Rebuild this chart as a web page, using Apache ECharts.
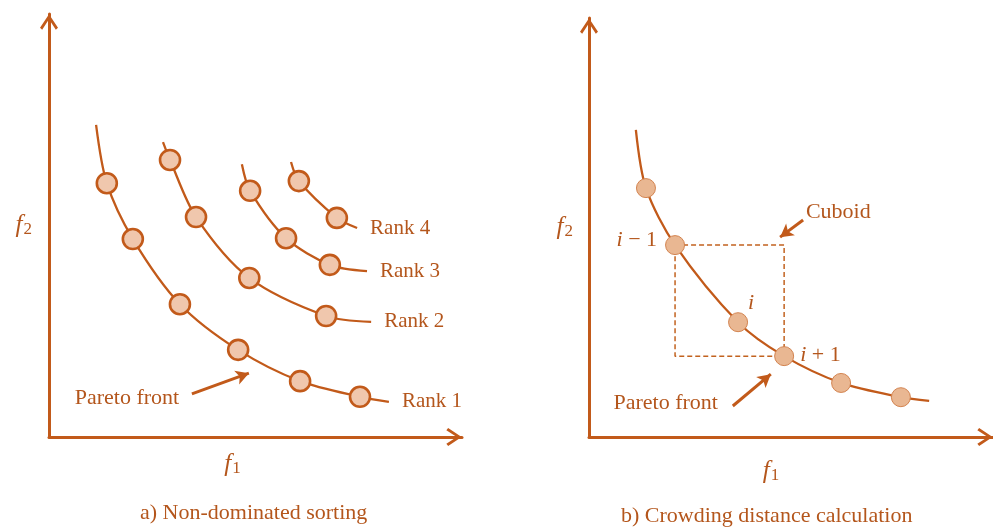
<!DOCTYPE html>
<html>
<head>
<meta charset="utf-8">
<script src="https://cdn.jsdelivr.net/npm/echarts@6/dist/echarts.min.js"></script>
<style>
  html, body { margin: 0; padding: 0; background: #fff; }
  #main { width: 993px; height: 531px; }
</style>
</head>
<body>
<div id="main"></div>
<script>
// left panel: ranks, first and last point of each are curve tails (no marker)
var rank1 = [[1.14, 7.38], [1.40, 6.00], [2.03, 4.68], [3.17, 3.14], [4.58, 2.06], [6.08, 1.32], [7.53, 0.95], [8.23, 0.83]];
var rank2 = [[2.76, 6.97], [2.93, 6.55], [3.56, 5.20], [4.85, 3.76], [6.71, 2.86], [7.80, 2.72]];
var rank3 = [[4.67, 6.45], [4.87, 5.82], [5.74, 4.70], [6.80, 4.07], [7.70, 3.92]];
var rank4 = [[5.86, 6.50], [6.05, 6.05], [6.97, 5.18], [7.46, 4.94]];
var rankNames = ['Rank 1', 'Rank 2', 'Rank 3', 'Rank 4'];

// right panel: one front, indices 2..4 are i-1, i, i+1
var front = [[1.16, 7.33], [1.41, 5.94], [2.13, 4.58], [3.69, 2.74], [4.83, 1.93], [6.24, 1.29], [7.72, 0.95], [8.42, 0.86]];
var frontLabels = { 2: '{it|i} − 1', 3: '{it|i}', 4: '{it|i} + 1' };

// arrows and notes
var paretoArrowA = [[3.46, 1.02], [4.84, 1.51]];
var paretoNoteA = [3.20, 0.92];
var paretoArrowB = [[3.56, 0.74], [4.50, 1.50]];
var paretoNoteB = [3.24, 0.81];
var cuboidArrow = [[5.30, 5.18], [4.73, 4.77]];
var cuboidNote = [5.32, 5.37];

var captions = ['a) Non-dominated sorting', 'b) Crowding distance calculation'];

var ORANGE = '#c25a1a';
var TEXT = '#b4561c';
var SERIF = 'Liberation Serif';
var chevron = 'path://M10,0 L20,15 L17.6,17 L10,5.4 L2.4,17 L0,15 Z';

var myChart = echarts.init(document.getElementById('main'));

var mathRich = {
  it: { fontFamily: SERIF, fontStyle: 'italic', fontSize: 22, color: TEXT },
  f: { fontFamily: SERIF, fontStyle: 'italic', fontSize: 25, color: TEXT },
  s: { fontFamily: SERIF, fontSize: 17, color: TEXT, verticalAlign: 'bottom', padding: [9, 0, 0, 1] }
};

function xAxisOf(idx, nameGap, shift) {
  return {
    type: 'value', gridIndex: idx, min: 0, max: 10,
    name: '{f|f}{s|1}', nameLocation: 'middle', nameGap: nameGap,
    nameTextStyle: { rich: mathRich, padding: [0, shift, 0, 0] },
    axisLine: { show: true, onZero: false, lineStyle: { color: ORANGE, width: 3 },
      symbol: ['none', chevron], symbolSize: [18, 16], symbolOffset: [0, -8] },
    axisTick: { show: false }, axisLabel: { show: false }, splitLine: { show: false }
  };
}
function yAxisOf(idx, nameGap) {
  return {
    type: 'value', gridIndex: idx, min: 0, max: 10,
    name: '{f|f}{s|2}', nameLocation: 'middle', nameRotate: 0, nameGap: nameGap,
    nameTextStyle: { rich: mathRich },
    axisLine: { show: true, onZero: false, lineStyle: { color: ORANGE, width: 3 },
      symbol: ['none', chevron], symbolSize: [18, 16], symbolOffset: [0, -8] },
    axisTick: { show: false }, axisLabel: { show: false }, splitLine: { show: false }
  };
}

function rankSeries(pts, name) {
  var last = pts.length - 1;
  return {
    type: 'line', xAxisIndex: 0, yAxisIndex: 0, smooth: 0.3,
    symbol: 'circle', symbolSize: 20, showAllSymbol: true,
    lineStyle: { color: ORANGE, width: 2.3 },
    itemStyle: { color: '#f0c7ad', borderColor: ORANGE, borderWidth: 2.6 },
    data: pts.map(function (p, k) {
      return (k === 0 || k === last) ? { value: p, symbol: 'none' } : p;
    }),
    endLabel: { show: true, formatter: name, distance: 13, color: TEXT, fontFamily: SERIF, fontSize: 21 },
    z: 3
  };
}

var frontLast = front.length - 1;
var pA = front[2], pB = front[4];
var cuboid = [[pA[0], pA[1]], [pB[0], pA[1]], [pB[0], pB[1]], [pA[0], pB[1]], [pA[0], pA[1]]];

function labelFor(k) {
  if (!frontLabels[k]) return undefined;
  var base = { show: true, formatter: frontLabels[k], color: TEXT, fontFamily: SERIF, fontSize: 22, rich: mathRich };
  if (k === 2) { base.position = 'left'; base.distance = 8; base.offset = [0, -5]; }
  if (k === 3) { base.position = 'top'; base.distance = 0; base.offset = [13, 2]; }
  if (k === 4) { base.position = 'right'; base.distance = 6; base.offset = [0, -1]; }
  return base;
}

function arrowSeries(idx, seg) {
  return {
    type: 'line', xAxisIndex: idx, yAxisIndex: idx, symbol: 'none', data: [], silent: true,
    markLine: {
      silent: true, symbol: ['none', 'arrow'], symbolSize: [11, 13], label: { show: false },
      lineStyle: { color: ORANGE, width: 3, type: 'solid' },
      data: [[{ coord: seg[0] }, { coord: seg[1] }]]
    }
  };
}

function noteSeries(idx, items) {
  return {
    type: 'scatter', xAxisIndex: idx, yAxisIndex: idx, symbolSize: 0, silent: true,
    itemStyle: { opacity: 1 },
    data: items.map(function (it) {
      return { value: it.at, label: { show: true, formatter: it.text, position: it.pos, distance: 2,
        color: TEXT, opacity: 1, fontFamily: SERIF, fontSize: 22 } };
    })
  };
}

var option = {
  animation: false,
  backgroundColor: '#fff',
  textStyle: { fontFamily: SERIF },
  grid: [
    { left: 49, top: 14, width: 413, height: 423 },
    { left: 589, top: 18, width: 404, height: 419 }
  ],
  xAxis: [xAxisOf(0, 14, 46), xAxisOf(1, 21, 40)],
  yAxis: [yAxisOf(0, 17), yAxisOf(1, 16)],
  graphic: [
    { type: 'text', left: 140, top: 502, style: { text: captions[0], fill: TEXT, font: '22px "Liberation Serif"' } },
    { type: 'text', left: 621, top: 505, style: { text: captions[1], fill: TEXT, font: '22px "Liberation Serif"' } }
  ],
  series: [
    rankSeries(rank1, rankNames[0]),
    rankSeries(rank2, rankNames[1]),
    rankSeries(rank3, rankNames[2]),
    rankSeries(rank4, rankNames[3]),
    arrowSeries(0, paretoArrowA),
    noteSeries(0, [{ at: paretoNoteA, text: 'Pareto front', pos: 'left' }]),
    {
      type: 'line', xAxisIndex: 1, yAxisIndex: 1, symbol: 'none', silent: true,
      lineStyle: { color: '#c2621f', width: 1.5, type: [5, 3] },
      data: cuboid, z: 2
    },
    {
      type: 'line', xAxisIndex: 1, yAxisIndex: 1, smooth: 0.3,
      symbol: 'circle', symbolSize: 19, showAllSymbol: true,
      lineStyle: { color: ORANGE, width: 2.3 },
      itemStyle: { color: '#e9b792', borderColor: '#d3834f', borderWidth: 1 },
      data: front.map(function (p, k) {
        if (k === 0 || k === frontLast) return { value: p, symbol: 'none' };
        var lab = labelFor(k);
        return lab ? { value: p, label: lab } : p;
      }),
      z: 3
    },
    arrowSeries(1, paretoArrowB),
    arrowSeries(1, cuboidArrow),
    noteSeries(1, [
      { at: paretoNoteB, text: 'Pareto front', pos: 'left' },
      { at: cuboidNote, text: 'Cuboid', pos: 'right' }
    ])
  ]
};

option && myChart.setOption(option);
</script>
</body>
</html>
